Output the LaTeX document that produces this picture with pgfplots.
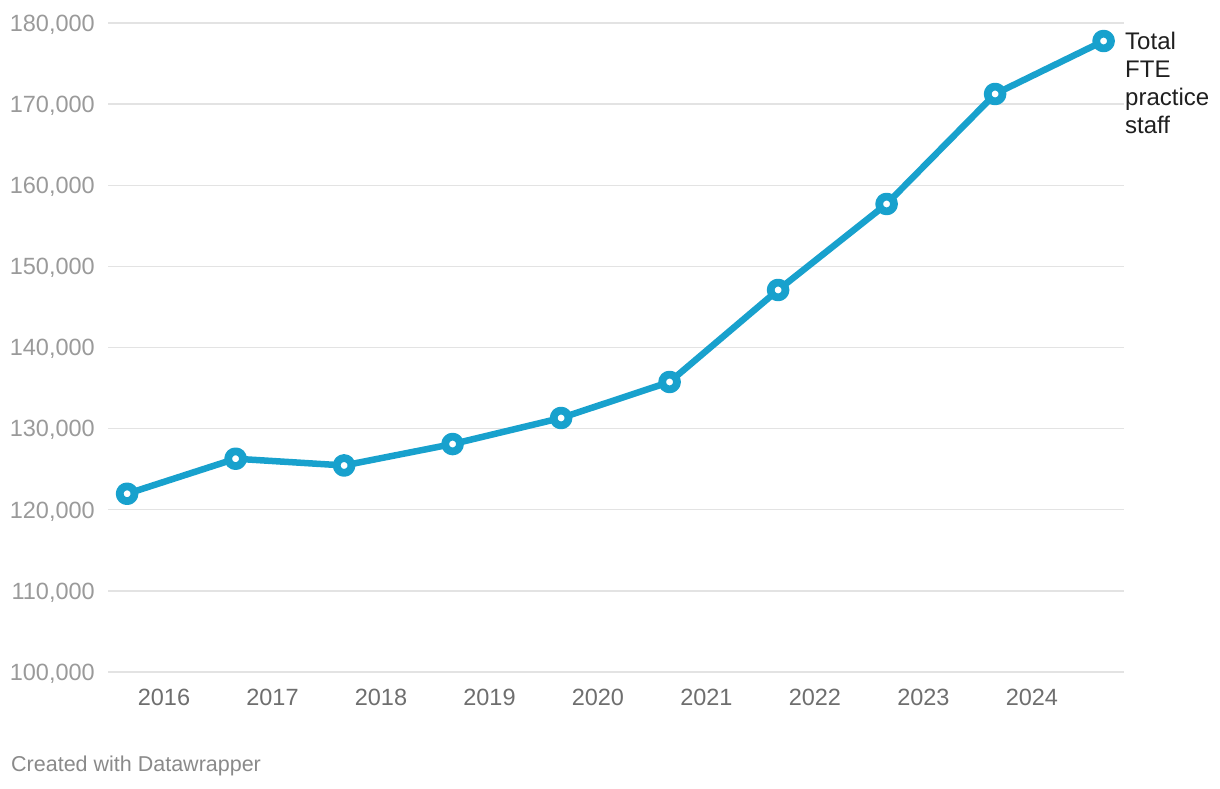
\documentclass[border=0pt]{standalone}
\usepackage{pgfplots}
\pgfplotsset{compat=1.18}
\usepackage{fontspec}
\setmainfont{Liberation Sans}
\definecolor{linecol}{HTML}{18A1CD}
\definecolor{gridcol}{HTML}{E3E3E3}
\definecolor{ylab}{HTML}{9A9A9A}
\definecolor{xlab}{HTML}{6E6E6E}
\definecolor{foot}{HTML}{8A8A8A}
\begin{document}
\begin{tikzpicture}[x=1pt,y=1pt]
\useasboundingbox (0,0) rectangle (1220,788);
\begin{axis}[
  at={(108pt,116pt)}, anchor=south west,
  scale only axis, width=1016pt, height=649pt,
  xmin=2015.484, xmax=2024.848,
  ymin=100000, ymax=180000,
  xtick={2016,2017,...,2024},
  xticklabels={2016,2017,2018,2019,2020,2021,2022,2023,2024},
  ytick={100000,110000,...,180000},
  yticklabels={100{,}000,110{,}000,120{,}000,130{,}000,140{,}000,150{,}000,160{,}000,170{,}000,180{,}000},
  axis line style={draw=none},
  major tick length=0pt,
  ymajorgrids, grid style={color=gridcol, line width=1.3pt},
  scaled y ticks=false,
  xticklabel style={font=\fontsize{23.5}{27}\selectfont, text=xlab, inner sep=0pt, anchor=north, yshift=-17pt},
  yticklabel style={font=\fontsize{23.5}{27}\selectfont, text=ylab, inner sep=0pt, anchor=base east, xshift=-13pt, yshift=-8.3pt},
  clip=false,
]
\addplot[color=linecol, line width=6.5pt, line join=round, mark=*, mark size=7.4pt,
  mark options={fill=white, draw=linecol, line width=7.8pt}] coordinates {
  (2015.66,121970)
  (2016.66,126290)
  (2017.66,125460)
  (2018.66,128100)
  (2019.66,131310)
  (2020.66,135750)
  (2021.66,147090)
  (2022.66,157690)
  (2023.66,171250)
  (2024.66,177780)
};
\end{axis}
\node[anchor=north west, inner sep=0pt, align=left, text=black!88, font=\fontsize{24}{28}\selectfont] at (1125,756) {Total\\FTE\\practice\\staff};
\node[anchor=base west, inner sep=0pt, text=foot, font=\fontsize{21.5}{25}\selectfont] at (11,16.5) {Created with Datawrapper};
\end{tikzpicture}
\end{document}
